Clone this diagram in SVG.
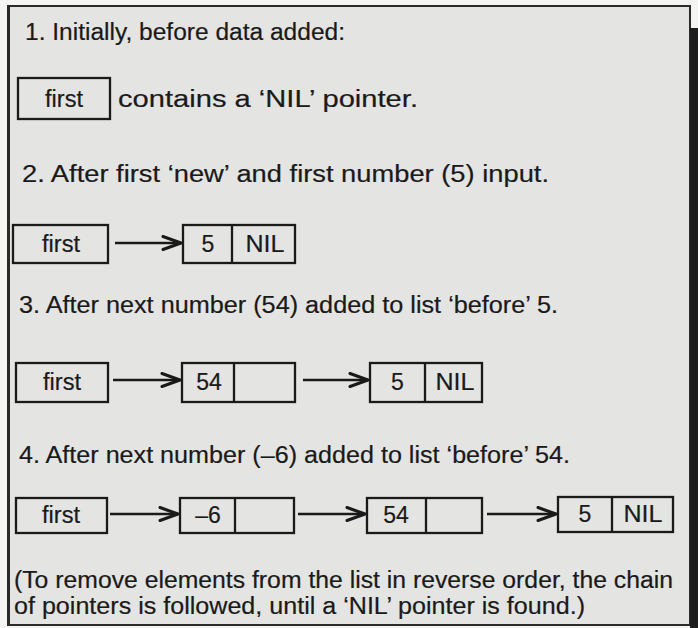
<svg xmlns="http://www.w3.org/2000/svg" width="698" height="628" viewBox="0 0 698 628">
<style>
.t{font-family:"Liberation Sans",Arial,Helvetica,sans-serif;font-size:23px;fill:#1a1a1a;stroke:#1a1a1a;stroke-width:0.2;}
.c{text-anchor:middle;}
.box{fill:none;stroke:#1a1a1a;stroke-width:2.3;}
.div{stroke:#1a1a1a;stroke-width:2.3;}
.arr{stroke:#1a1a1a;stroke-width:2.3;fill:none;}
</style>
<defs>
<marker id="ah" viewBox="0 0 22 16" markerWidth="22" markerHeight="16" refX="20" refY="8" orient="auto" markerUnits="userSpaceOnUse">
<path d="M2,1.5 L20,8 L2,14.5" fill="none" stroke="#1a1a1a" stroke-width="3" stroke-linejoin="round" stroke-linecap="round"/>
</marker>
</defs>
<rect x="0" y="0" width="698" height="628" fill="#f4f4f2"/>
<rect x="8" y="6" width="682" height="619" fill="#e4e4e2" stroke="#2a2a2a" stroke-width="2"/>
<line x1="8.5" y1="6" x2="8.5" y2="625" stroke="#2a2a2a" stroke-width="3"/>
<rect x="690" y="28" width="8" height="600" fill="#1e1e1e"/>

<g id="labels">
<text class="t" x="25" y="40" textLength="320" lengthAdjust="spacingAndGlyphs">1. Initially, before data added:</text>
<text class="t" x="118" y="107" textLength="300" lengthAdjust="spacingAndGlyphs">contains a ‘NIL’ pointer.</text>
<text class="t" x="22" y="182" textLength="527" lengthAdjust="spacingAndGlyphs">2. After first ‘new’ and first number (5) input.</text>
<text class="t" x="19" y="313" textLength="539" lengthAdjust="spacingAndGlyphs">3. After next number (54) added to list ‘before’ 5.</text>
<text class="t" x="19" y="463" textLength="551" lengthAdjust="spacingAndGlyphs">4. After next number (–6) added to list ‘before’ 54.</text>
<text class="t" x="14" y="588" textLength="659" lengthAdjust="spacingAndGlyphs">(To remove elements from the list in reverse order, the chain</text>
<text class="t" x="14" y="614" textLength="571" lengthAdjust="spacingAndGlyphs">of pointers is followed, until a ‘NIL’ pointer is found.)</text>
</g>

<g id="first1">
<rect class="box" x="18" y="78" width="92" height="41"/>
<text class="t c" x="64" y="107" textLength="38" lengthAdjust="spacingAndGlyphs">first</text>
</g>

<g id="first2">
<rect class="box" x="13" y="225" width="95" height="38"/>
<text class="t c" x="61" y="252" textLength="38" lengthAdjust="spacingAndGlyphs">first</text>
</g>
<g id="node5_2">
<rect class="box" x="183" y="225" width="112" height="38"/>
<line class="div" x1="232" y1="225" x2="232" y2="263"/>
<text class="t c" x="208" y="252">5</text>
<text class="t c" x="265" y="252" textLength="39" lengthAdjust="spacingAndGlyphs">NIL</text>
</g>

<g id="first3">
<rect class="box" x="16" y="363" width="92" height="39"/>
<text class="t c" x="62" y="390" textLength="38" lengthAdjust="spacingAndGlyphs">first</text>
</g>
<g id="node54_3">
<rect class="box" x="182" y="363" width="113" height="39"/>
<line class="div" x1="234" y1="363" x2="234" y2="402"/>
<text class="t c" x="209" y="390">54</text>
</g>
<g id="node5_3">
<rect class="box" x="370" y="363" width="112" height="39"/>
<line class="div" x1="425" y1="363" x2="425" y2="402"/>
<text class="t c" x="397.5" y="390">5</text>
<text class="t c" x="455" y="390" textLength="39" lengthAdjust="spacingAndGlyphs">NIL</text>
</g>

<g id="first4">
<rect class="box" x="16" y="498" width="91" height="35"/>
<text class="t c" x="61" y="523" textLength="38" lengthAdjust="spacingAndGlyphs">first</text>
</g>
<g id="nodeM6_4">
<rect class="box" x="180" y="498" width="114" height="35"/>
<line class="div" x1="235" y1="498" x2="235" y2="533"/>
<text class="t c" x="208" y="523">–6</text>
</g>
<g id="node54_4">
<rect class="box" x="367" y="498" width="115" height="35"/>
<line class="div" x1="426" y1="498" x2="426" y2="533"/>
<text class="t c" x="396" y="523">54</text>
</g>
<g id="node5_4">
<rect class="box" x="558" y="497" width="115" height="35"/>
<line class="div" x1="612" y1="497" x2="612" y2="532"/>
<text class="t c" x="585" y="522">5</text>
<text class="t c" x="643" y="522" textLength="39" lengthAdjust="spacingAndGlyphs">NIL</text>
</g>

<g id="connectors">
<line class="arr" x1="115" y1="243" x2="181" y2="243" marker-end="url(#ah)"/>
<line class="arr" x1="113" y1="380" x2="180" y2="380" marker-end="url(#ah)"/>
<line class="arr" x1="303" y1="380" x2="368" y2="380" marker-end="url(#ah)"/>
<line class="arr" x1="110" y1="514" x2="178" y2="514" marker-end="url(#ah)"/>
<line class="arr" x1="298" y1="514" x2="365" y2="514" marker-end="url(#ah)"/>
<line class="arr" x1="487" y1="514" x2="556" y2="514" marker-end="url(#ah)"/>
</g>
</svg>
